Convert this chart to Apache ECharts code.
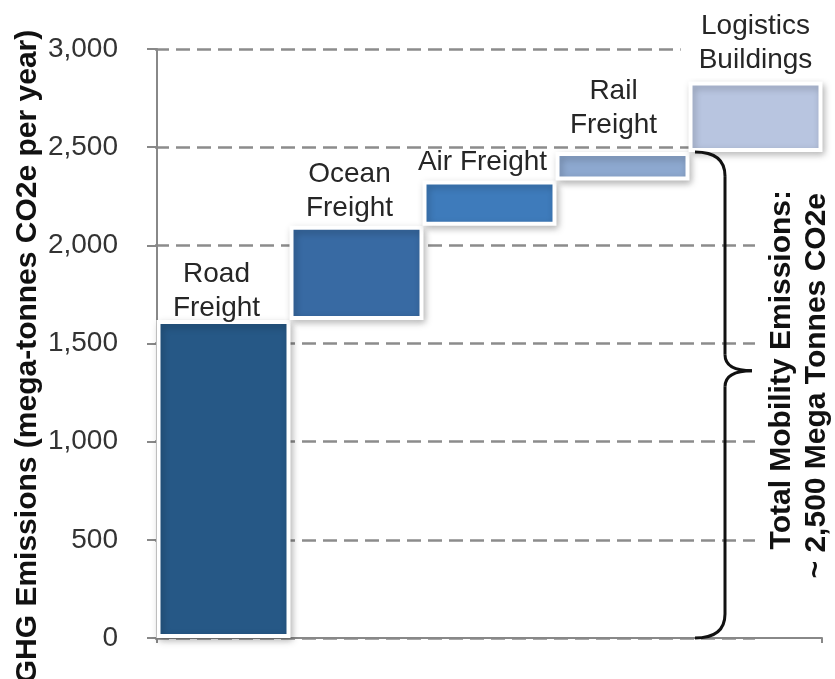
<!DOCTYPE html>
<html>
<head>
<meta charset="utf-8">
<script src="https://cdn.jsdelivr.net/npm/echarts@6/dist/echarts.min.js"></script>
<style>
  html, body { margin: 0; padding: 0; background: #fff; }
  #chart { width: 835px; height: 679px; }
</style>
</head>
<body>
<div id="chart"></div>
<script>
// waterfall steps, mega-tonnes CO2e per year
var categories = ['Road\nFreight', 'Ocean\nFreight', 'Air Freight', 'Rail\nFreight', 'Logistics\nBuildings'];
var emissions = [1620, 480, 230, 145, 360];
var barColors = ['#265886', '#386aa3', '#3e7bbb', '#8da8cf', '#b8c5e0'];
var yTicks = [0, 500, 1000, 1500, 2000, 2500, 3000];
var mobilityCount = 4; // first four steps are transport
var annotationLines = ['Total Mobility Emissions:', '~ 2,500 Mega Tonnes CO2e'];

// label nudges [dx, dy] per bar
var labelShift = [[-7, 9], [-7, 4], [-7, 3], [-9, -6], [0, 0]];

var font = 'Liberation Sans, Arial, sans-serif';
var axisGrey = '#888';

var base = [];
var run = 0;
emissions.forEach(function (v) {
  base.push(run);
  run += v;
});
var totalMobility = 0;
for (var i = 0; i < mobilityCount; i++) totalMobility += emissions[i];

var yMin = yTicks[0];
var yMax = yTicks[yTicks.length - 1];
var yStep = yTicks[1] - yTicks[0];

var chart = echarts.init(document.getElementById('chart'));

var option = {
  animation: false,
  grid: [
    { left: 157, width: 665, top: 49, bottom: 41, containLabel: false, outerBoundsMode: 'none' },
    // narrower grid only for the dashed lines, they stop before the brace
    { left: 155, width: 600, top: 49, bottom: 41, containLabel: false, outerBoundsMode: 'none' }
  ],
  xAxis: [
    { type: 'category', gridIndex: 0, data: categories, show: false },
    {
      type: 'value', gridIndex: 0, min: 0, max: 1, interval: 1, position: 'bottom',
      axisLine: { show: true, lineStyle: { color: axisGrey, width: 2 } },
      axisTick: { show: true, length: 5, lineStyle: { color: axisGrey, width: 2 } },
      axisLabel: { show: false },
      splitLine: { show: false }
    },
    { type: 'value', gridIndex: 1, min: 0, max: 1, show: false }
  ],
  yAxis: [
    {
      type: 'value', gridIndex: 0, min: yMin, max: yMax, interval: yStep, offset: 2,
      axisLine: { show: true, lineStyle: { color: axisGrey, width: 2 } },
      axisTick: { show: true, length: 10, lineStyle: { color: axisGrey, width: 2 } },
      axisLabel: {
        margin: 37, fontSize: 28, fontFamily: font, color: '#333',
        formatter: function (v) { return v.toLocaleString('en-US'); }
      },
      splitLine: { show: false },
      name: 'GHG Emissions (mega-tonnes CO2e per year)',
      nameLocation: 'middle',
      nameGap: 112,
      nameMoveOverlap: false,
      nameTextStyle: {
        fontSize: 30, fontWeight: 'bold', fontFamily: font, color: '#111',
        padding: [0, 26, 0, 0]
      }
    },
    {
      type: 'value', gridIndex: 1, min: yMin, max: yMax, interval: yStep,
      axisLine: { show: false },
      axisTick: { show: false },
      axisLabel: { show: false },
      splitLine: { show: true, lineStyle: { color: '#8c8c8c', width: 2.5, type: [14, 7] } }
    }
  ],
  series: [
    {
      // invisible base of the waterfall
      type: 'bar', stack: 'steps', xAxisIndex: 0, yAxisIndex: 0,
      barWidth: 134, silent: true,
      itemStyle: { color: 'transparent' },
      data: base
    },
    {
      type: 'bar', stack: 'steps', xAxisIndex: 0, yAxisIndex: 0,
      barWidth: 134,
      itemStyle: {
        borderColor: '#fff', borderWidth: 4,
        shadowBlur: 7, shadowColor: 'rgba(0,0,0,0.25)', shadowOffsetX: 2, shadowOffsetY: 3
      },
      label: {
        show: true, position: 'top', distance: 4,
        fontSize: 28, lineHeight: 34, fontFamily: font, color: '#262626',
        formatter: function (p) { return categories[p.dataIndex]; }
      },
      data: emissions.map(function (v, i) {
        var lab = { offset: labelShift[i] };
        if (i === emissions.length - 1) {
          lab.backgroundColor = '#fff';
          lab.padding = [0, 18];
        }
        return { value: v, itemStyle: { color: barColors[i] }, label: lab };
      })
    }
  ]
};
chart.setOption(option);

// brace + note on the right
var yTop = chart.convertToPixel({ yAxisIndex: 0 }, totalMobility);
var yBot = chart.convertToPixel({ yAxisIndex: 0 }, 0);
var yMid = yTop + (yBot - yTop) * 0.45;
var bx = 695, vx = 725, tipX = 752;
var braceStyle = { fill: 'none', stroke: '#111', lineWidth: 3 };

function curve(x1, y1, cx, cy, x2, y2) {
  return {
    type: 'bezierCurve', z: 10,
    shape: { x1: x1, y1: y1, cpx1: cx, cpy1: cy, x2: x2, y2: y2 },
    style: braceStyle
  };
}
function seg(x1, y1, x2, y2) {
  return {
    type: 'line', z: 10,
    shape: { x1: x1, y1: y1, x2: x2, y2: y2 },
    style: braceStyle
  };
}

chart.setOption({
  graphic: [
    curve(bx, yTop, vx, yTop, vx, yTop + 24),
    seg(vx, yTop + 24, vx, yMid - 16),
    curve(vx, yMid - 16, vx, yMid, tipX, yMid),
    curve(tipX, yMid, vx, yMid, vx, yMid + 16),
    seg(vx, yMid + 16, vx, yBot - 24),
    curve(vx, yBot - 24, vx, yBot, bx, yBot),
    {
      type: 'text', x: 782, y: 190, rotation: Math.PI / 2,
      style: {
        text: annotationLines[0], fontSize: 30, fontWeight: 'bold', fontFamily: font,
        fill: '#111', align: 'right', verticalAlign: 'middle'
      }
    },
    {
      type: 'text', x: 817, y: 193, rotation: Math.PI / 2,
      style: {
        text: annotationLines[1], fontSize: 30, fontWeight: 'bold', fontFamily: font,
        fill: '#111', align: 'right', verticalAlign: 'middle'
      }
    }
  ]
});
</script>
</body>
</html>
